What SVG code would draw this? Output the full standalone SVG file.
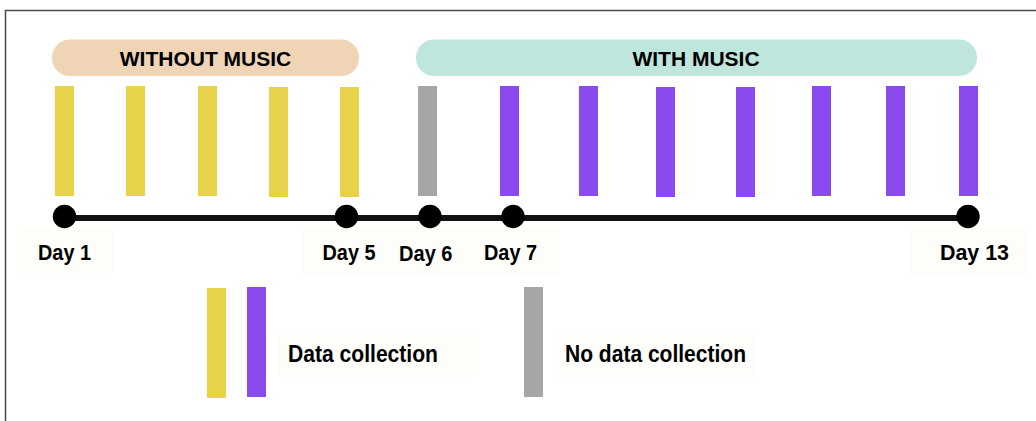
<svg xmlns="http://www.w3.org/2000/svg" width="1036" height="421" viewBox="0 0 1036 421">
<style>
text{font-family:"Liberation Sans",Arial,sans-serif;font-weight:bold;font-size:21px;fill:#000}
.day{font-size:22.5px}
.leg{font-size:23px}
.y{fill:#E8D24A}.p{fill:#8B4AEE}.g{fill:#A6A6A6}
.bg{fill:#FDFDFA}
.dot{fill:#000}
</style>
<rect width="1036" height="421" fill="#fff"/>
<rect x="5.5" y="10.5" width="1040" height="420" fill="none" stroke="#4a4a4a" stroke-width="1.5"/>
<g id="label-backgrounds">
<rect class="bg" x="17" y="228" width="97" height="45"/>
<rect class="bg" x="302" y="228" width="258" height="46"/>
<rect class="bg" x="910" y="228" width="118" height="46"/>
<rect class="bg" x="278" y="333" width="195" height="44"/>
<rect class="bg" x="553" y="333" width="203" height="44"/>
</g>
<g id="without-music">
<rect x="52" y="39.5" width="307" height="36.5" rx="18" fill="#EFD5B5"/>
<text x="205.5" y="66" text-anchor="middle">WITHOUT MUSIC</text>
</g>
<g id="with-music">
<rect x="416" y="39.5" width="561" height="36.5" rx="18" fill="#BFE6DC"/>
<text x="696" y="66" text-anchor="middle">WITH MUSIC</text>
</g>
<g id="bars">
<rect class="y" x="55" y="86" width="19" height="110"/>
<rect class="y" x="126" y="86" width="19" height="110"/>
<rect class="y" x="198" y="86" width="19" height="110"/>
<rect class="y" x="269" y="87" width="19" height="110"/>
<rect class="y" x="340" y="87" width="19" height="110"/>
<rect class="g" x="418" y="86" width="19" height="110"/>
<rect class="p" x="500" y="86" width="19" height="110"/>
<rect class="p" x="579" y="86" width="19" height="110"/>
<rect class="p" x="656" y="87" width="19" height="110"/>
<rect class="p" x="736" y="87" width="19" height="110"/>
<rect class="p" x="812" y="86" width="19" height="110"/>
<rect class="p" x="886" y="86" width="19" height="110"/>
<rect class="p" x="959" y="86" width="19" height="110"/>
</g>
<g id="connectors">
<line x1="64.5" y1="218" x2="968" y2="218" stroke="#111" stroke-width="6"/>
</g>
<g id="day1"><circle class="dot" cx="64.5" cy="216.5" r="11.7"/><text class="day" x="38" y="260" textLength="53" lengthAdjust="spacingAndGlyphs">Day 1</text></g>
<g id="day5"><circle class="dot" cx="346.5" cy="216.5" r="11.7"/><text class="day" x="322.5" y="260" textLength="53" lengthAdjust="spacingAndGlyphs">Day 5</text></g>
<g id="day6"><circle class="dot" cx="430" cy="216.5" r="11.7"/><text class="day" x="399" y="261" textLength="53.5" lengthAdjust="spacingAndGlyphs">Day 6</text></g>
<g id="day7"><circle class="dot" cx="513" cy="216.5" r="11.7"/><text class="day" x="484" y="260" textLength="53" lengthAdjust="spacingAndGlyphs">Day 7</text></g>
<g id="day13"><circle class="dot" cx="968" cy="216.5" r="11.7"/><text class="day" x="940" y="260" textLength="69" lengthAdjust="spacingAndGlyphs">Day 13</text></g>
<g id="legend-data">
<rect class="y" x="207" y="288" width="19" height="110"/>
<rect class="p" x="247" y="287" width="19" height="110"/>
<text class="leg" x="288" y="362" textLength="150" lengthAdjust="spacingAndGlyphs">Data collection</text>
</g>
<g id="legend-nodata">
<rect class="g" x="524" y="287" width="19" height="110"/>
<text class="leg" x="565" y="362" textLength="181" lengthAdjust="spacingAndGlyphs">No data collection</text>
</g>
</svg>
